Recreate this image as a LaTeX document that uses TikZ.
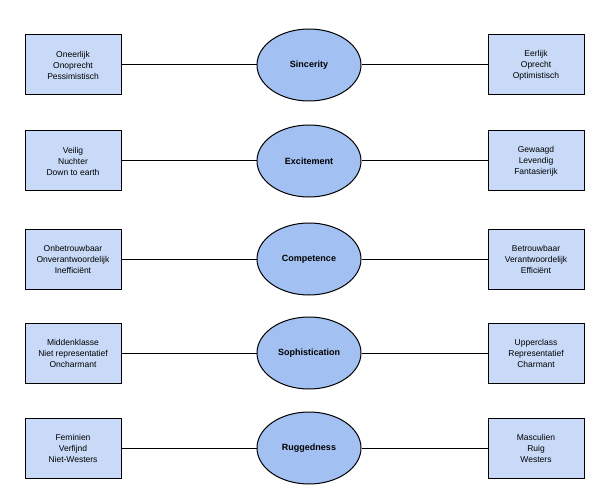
\documentclass[tikz,border=0pt]{standalone}
\usepackage{fontspec}
\setmainfont{Liberation Sans}
\usetikzlibrary{shapes.geometric}
\begin{document}
\begin{tikzpicture}[x=1pt,y=-1pt,
  box/.style={draw, line width=1pt, fill={rgb,255:red,200;green,218;blue,248}, minimum width=96pt, minimum height=60pt, align=center, font=\fontsize{8.5}{11}\selectfont, inner sep=0pt},
  ell/.style={ellipse, draw, line width=1pt, fill={rgb,255:red,162;green,192;blue,242}, minimum width=104pt, minimum height=72pt, font=\bfseries\fontsize{9}{11}\selectfont, inner sep=0pt},
  conn/.style={line width=1pt}]
\useasboundingbox (0,0) rectangle (600,500);
\foreach \i/\y/\t/\l/\r in {
  1/65/Sincerity/{Oneerlijk\\Onoprecht\\Pessimistisch}/{Eerlijk\\Oprecht\\Optimistisch},
  2/161/Excitement/{Veilig\\Nuchter\\Down to earth}/{Gewaagd\\Levendig\\Fantasierijk},
  3/259/Competence/{Onbetrouwbaar\\Onverantwoordelijk\\Inefficiënt}/{Betrouwbaar\\Verantwoordelijk\\Efficiënt},
  4/353/Sophistication/{Middenklasse\\Niet representatief\\Oncharmant}/{Upperclass\\Representatief\\Charmant},
  5/448/Ruggedness/{Feminien\\Verfijnd\\Niet-Westers}/{Masculien\\Ruig\\Westers}}{
  \node[box] (l\i) at (73,\y) {\l};
  \node[ell] (e\i) at (309,\y) {\t};
  \node[box] (r\i) at (536,\y) {\r};
  \draw[conn] (l\i) -- (e\i);
  \draw[conn] (e\i) -- (r\i);
}
\end{tikzpicture}
\end{document}
